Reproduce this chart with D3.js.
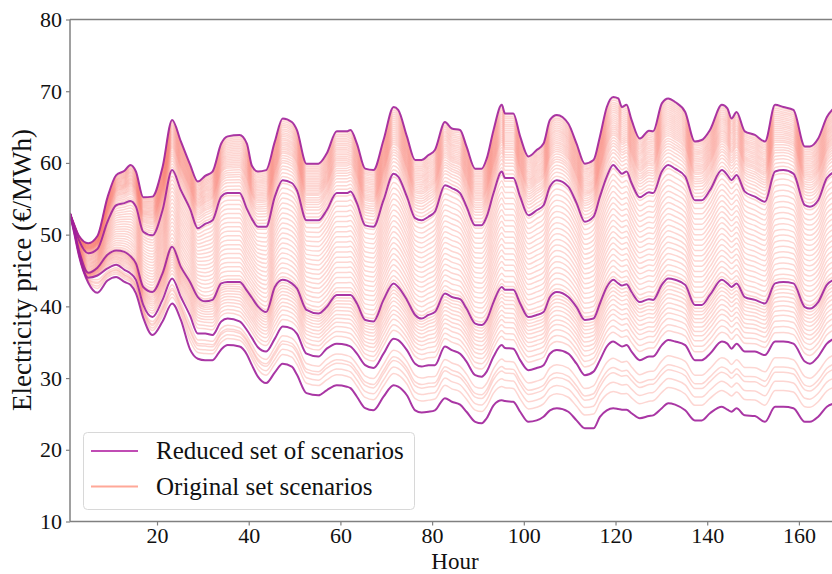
<!DOCTYPE html>
<html><head><meta charset="utf-8">
<script src="https://cdn.jsdelivr.net/npm/d3@7"></script>
<style>body{margin:0;background:#fff}svg{display:block}text{font-family:"Liberation Serif","DejaVu Serif",serif;fill:#111}</style>
</head><body><svg id="c" width="832" height="574"></svg>
<script>
const hours = [1,2,3,5,7, 9.2,11.1,12.9,14.2,15.4, 17,19,21.2,23.3,25.2, 27.2,28.9,30.5,32.1,34, 35.4,38,39.6,40.7,42, 43.8,45.7,47.4,49.4,50.5, 52.6,55.2,57,59.2,61.4, 62.2,63.6,65.4,67.2,69.4, 71.6,72.6,74.5,76.3,77.7, 79.2,80.6,82.8,84.3,86.1, 87.5,89.4,90.8,91.9,93.4, 95.2,95.9,97.7,99.2,101, 102.8,104.3,105.7,107.2,109.7, 111.5,113.3,115.2,116.6,118.1, 119.5,120.6,121.4,122.4,123.5, 125.3,127.3,128.2,130.1,131.5, 133,135.2,137.3,138.8,140.6, 143.2,144.4,145.3,146.4,148.2, 150.4,152.6,154.8,156.6,158.8, 161.3,162.4,164.2,166.1,168];

const reduced1 = [53,51.3,49.8,48.8,49.8, 55.2,58.3,58.9,59.7,58.8, 55.2,55.3,59.4,66,63, 59.8,57.4,58.2,58.8,62.7, 63.7,63.9,62.7,59.6,58.8, 59,63,66.2,65.7,64.6, 59.9,59.9,61.3,64.4,64.4, 64.6,62.7,59.2,59,63.2, 67.8,67.4,63.7,60.4,60.4, 61.1,61.8,65.7,64.8,64.6, 62.3,59.2,59.2,60.6,64.6, 68.1,66.9,66.9,63.7,60.9, 61.8,62.7,66,66.7,65.5, 62.7,59.9,60.4,63.7,67.8, 69.2,69,67.8,68.1,66, 63.4,64.5,64.4,68.3,69, 68.5,67.1,63,63.2,64.6, 68.1,67.6,66.2,67.1,64.4, 63.9,63,68.1,67.8,67.4, 62.3,62.3,63.4,66.4,67.9];
const reduced2 = [53,51,49.2,47.4,48, 51.8,54.1,54.4,54.7,53.9, 50.4,49.9,53.4,59,56.2, 53.6,50.9,51.5,52,55.3, 55.8,55.8,53.6,52.2,51.1, 51.1,55.3,57.6,57.2,56.2, 52,52,53.4,55.8,55.8, 56,54.4,51.3,51.1,54.8, 58.5,58.1,55.3,52.3,52, 52.5,53.2,56.9,56.5,55.8, 53.9,51.3,51.3,52.5,55.8, 58.8,57.9,57.9,55.3,52.7, 53.4,54.1,56.7,57.6,56.7, 54.4,51.8,52.5,55.3,58.1, 59.7,59,58.5,58.8,57.2, 55.2,55.9,55.8,58.8,59.7, 59.2,58.1,54.8,54.8,56.2, 59,58.3,57.6,58.3,56, 55.3,54.6,58.8,59,58.5, 54.1,53.9,54.8,57.9,58.8];
const reduced3 = [53,50.5,47.8,44.7,45.4, 47.2,47.8,47.6,47,46, 42.7,42,44.6,48.3,45.5, 43.4,41.3,40.7,40.9,43.2, 43.4,43.4,42.2,41.2,40, 39.2,42.7,43.7,43.2,42.5, 39.5,39,39.9,41.6,41.6, 41.6,40.4,38.1,37.9,40.9, 43.2,42.7,40.9,38.8,38.3, 38.8,39.2,41.8,41.3,41, 39.7,37.6,37.4,38.1,40.6, 42.7,42.3,42.3,40.4,38.5, 38.8,39.2,41.3,42,41.3, 39.9,38.1,38.3,40.4,42.7, 43.7,43.2,42.9,43.1,42, 40.6,41,40.9,43,43.9, 43.7,43,40.2,40.2,41.6, 43.7,43.2,42.7,43.2,41.3, 40.9,40.4,43.2,43.4,43.2, 39.9,39.7,40.6,43,43.8];
const reduced4 = [53,50.3,47.3,44,44.3, 45.3,45.8,45.1,44.6,43.7, 40.2,38.5,40.9,43.9,41.3, 38.7,36.2,36.2,36,37.9, 38.3,37.9,36.7,35.6,34.3, 33.7,35.5,37.2,36.9,36.2, 33.4,33,34.1,34.8,34.6, 34.4,33.4,31.8,31.4,33.4, 35.5,35.3,33.9,32,31.6, 31.8,31.8,34.4,33.9,33.4, 32.3,30.4,30.2,30.9,33, 34.6,34.2,34.1,32.5,31.1, 31.4,31.8,33.4,33.9,33.4, 32,30.4,30.9,32.5,34.4, 35.1,34.7,34.4,34.6,33.7, 32.5,33,33,34.6,35.3, 35.1,34.6,32.5,32.5,33.4, 35.1,34.8,34.1,34.8,33.7, 33.7,33.2,35.1,35.1,34.8, 32.3,32,33,34.8,35.6];
const reduced5 = [53,50,47,43.3,41.9, 43.6,44.1,43.4,43,41.8, 38.4,36,37.9,40.4,38.1, 34,32.7,32.5,32.5,34, 34.6,34.4,33.3,31.8,30.2, 29.3,30.8,32,31.6,30.5, 27.9,27.6,28.3,29,28.8, 28.6,27.4,25.8,25.5,27.4, 29,28.8,27.6,25.5,25.2, 25.3,25.5,27.2,26.7,26.3, 25.3,23.9,23.7,24.4,26.2, 26.9,26.8,26.7,25.3,23.9, 24.1,24.6,25.5,25.8,25.3, 24.1,23,23,24.6,25.5, 25.8,25.7,25.6,25.6,25.1, 24.4,24.7,24.8,25.8,26.5, 26.3,25.5,24.1,24.1,25.1, 26,25.6,25.3,25.8,24.8, 24.7,23.9,26,26,25.8, 23.9,23.9,24.6,26,26.5];
const reducedSet = [reduced1, reduced2, reduced3, reduced4, reduced5];

// estimated position of each original scenario between the reduced ones (0 = top reduced line, 4 = bottom one)
const originalPositions = [0.02,0.05,0.08,0.11,0.14,0.17,0.2,0.23,0.26,0.29,0.32,0.35,0.38,0.41,0.44,0.47,0.5,0.53,0.56,0.6,0.64,0.68,0.72,0.77,0.82,0.88,0.94,
  1.03,1.08,1.13,1.18,1.23,1.28,1.33,1.38,1.43,1.48,1.53,1.58,1.63,1.68,1.73,1.78,1.83,1.88,1.93,1.97,
  2.06,2.12,2.18,2.25,2.32,2.4,2.48,2.56,2.65,2.75,2.85,
  3.25,3.39,3.47,3.61,3.75];

const yTicks = [10,20,30,40,50,60,70,80];
const xTicks = [20,40,60,80,100,120,140,160];
const legendLabels = ["Reduced set of scenarios","Original set scenarios"];

const svg = d3.select("#c");
const x = d3.scaleLinear().domain([1,168]).range([69.9,835.6]);
const y = d3.scaleLinear().domain([10,80]).range([521.5,19.5]);

svg.append("defs").append("clipPath").attr("id","clip").append("rect")
  .attr("x",70).attr("y",19.5).attr("width",766).attr("height",502);

const originals = originalPositions.map(p => {
  const i = Math.min(3, Math.floor(p)), f = p - i;
  return hours.map((h,k) => reducedSet[i][k]*(1-f) + reducedSet[i+1][k]*f);
});

const line = d3.line().x((d,k)=>x(hours[k])).y(d=>y(d)).curve(d3.curveMonotoneX);
const g = svg.append("g").attr("clip-path","url(#clip)");
g.selectAll("path.orig").data(originals).join("path").attr("class","orig")
  .attr("d",line).attr("fill","none").attr("stroke","#fa8072").attr("stroke-opacity",0.32).attr("stroke-width",1.5).attr("stroke-linejoin","round");
g.selectAll("path.red").data(reducedSet).join("path").attr("class","red")
  .attr("d",line).attr("fill","none").attr("stroke","#a0209a").attr("stroke-opacity",0.9).attr("stroke-width",2).attr("stroke-linejoin","round");

// axes
const axisColor = "#808080";
const yAxis = svg.append("g").attr("transform","translate(70,0)")
  .call(d3.axisLeft(y).tickValues(yTicks).tickSize(4).tickPadding(4).tickFormat(d3.format("d")));
const xAxis = svg.append("g").attr("transform","translate(0,521.5)")
  .call(d3.axisBottom(x).tickValues(xTicks).tickSize(4).tickPadding(2).tickFormat(d3.format("d")));
[yAxis,xAxis].forEach(a=>{
  a.select(".domain").remove();
  a.selectAll(".tick line").attr("stroke",axisColor).attr("stroke-width",1.2);
  a.selectAll(".tick text").attr("font-size",22).attr("font-family","Liberation Serif, serif").attr("fill","#111");
});
// spines
svg.append("line").attr("x1",70).attr("x2",70).attr("y1",19.5).attr("y2",521.5).attr("stroke",axisColor).attr("stroke-width",1.5);
svg.append("line").attr("x1",70).attr("x2",836).attr("y1",521.5).attr("y2",521.5).attr("stroke",axisColor).attr("stroke-width",1.5);
svg.append("line").attr("x1",70).attr("x2",836).attr("y1",19.5).attr("y2",19.5).attr("stroke",axisColor).attr("stroke-width",1.5);

svg.append("text").attr("x",455).attr("y",569).attr("text-anchor","middle").attr("font-size",23).text("Hour");
svg.append("text").attr("transform","translate(31,270) rotate(-90)").attr("text-anchor","middle").attr("font-size",27).text("Electricity price (€/MWh)");

// legend
const lg = svg.append("g");
lg.append("rect").attr("x",83.5).attr("y",432.5).attr("width",331).attr("height",77).attr("rx",4)
  .attr("fill","#fff").attr("fill-opacity",0.85).attr("stroke","#d8d8d8").attr("stroke-width",1);
const legColors = ["#c04cb4","#ffa898"];
legendLabels.forEach((t,i)=>{
  const yy = 451 + i*35.5;
  lg.append("line").attr("x1",91).attr("x2",138).attr("y1",yy).attr("y2",yy).attr("stroke",legColors[i]).attr("stroke-width",2);
  lg.append("text").attr("x",156).attr("y",yy).attr("dy","0.33em").attr("font-size",25).text(t);
});
</script></body></html>
